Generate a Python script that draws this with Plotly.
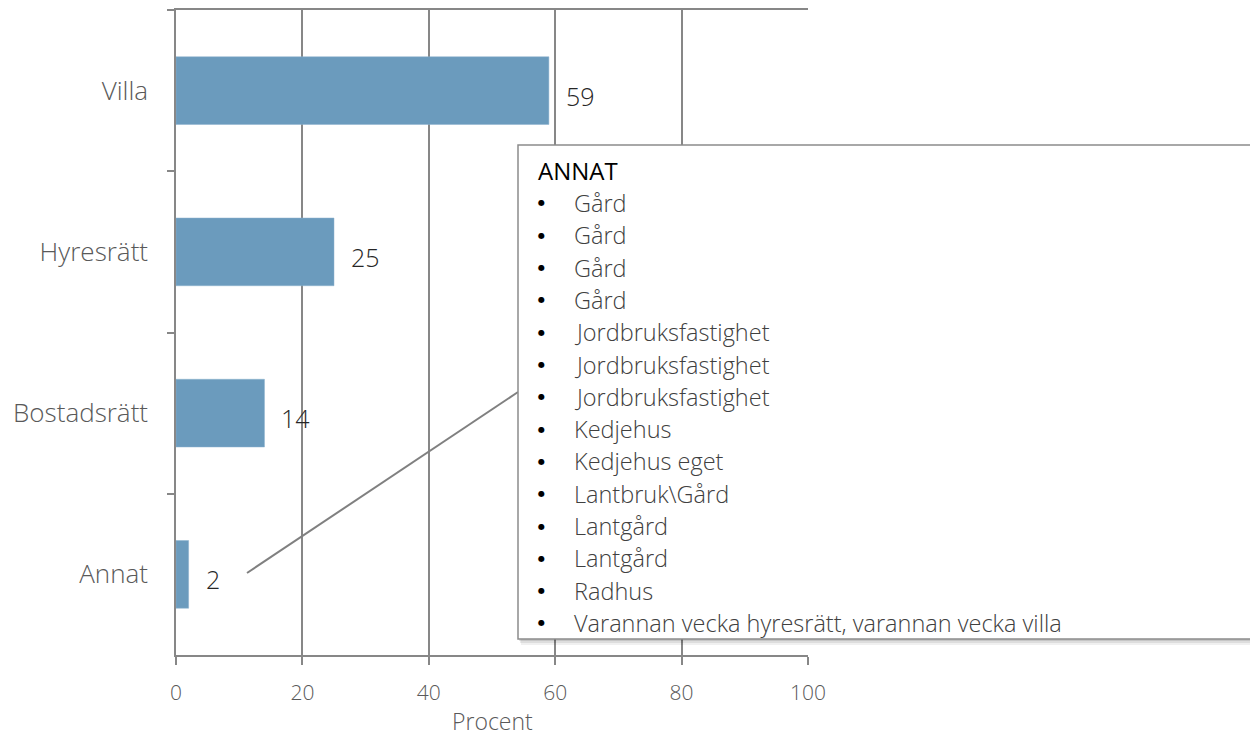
import plotly.graph_objects as go

categories = ["Villa", "Hyresrätt", "Bostadsrätt", "Annat"]
values = [59, 25, 14, 2]
x_ticks = [0, 20, 40, 60, 80, 100]
x_title = "Procent"
callout_title = "ANNAT"
annat_items = [
    "Gård", "Gård", "Gård", "Gård",
    "Jordbruksfastighet", "Jordbruksfastighet", "Jordbruksfastighet",
    "Kedjehus", "Kedjehus eget", "Lantbruk\\Gård",
    "Lantgård", "Lantgård", "Radhus",
    "Varannan vecka hyresrätt, varannan vecka villa",
]

W, H = 1250, 739
ML, MT = 176, 10
PW, PH = 632, 645
MR, MB = W - ML - PW, H - MT - PH
FONT = "Open Sans"
GRID = "#878787"


def px(p):  # page x -> paper
    return (p - ML) / PW


def py(p):  # page y -> paper
    return (MT + PH - p) / PH


fig = go.Figure()
fig.add_trace(go.Bar(
    x=values, y=categories, orientation="h", width=0.42,
    marker=dict(color="#6B9BBD", line=dict(color="#8DB3CF", width=0.5)),
    hoverinfo="skip", showlegend=False,
))

annotations = []
for c, v in zip(categories, values):
    annotations.append(dict(
        x=v, y=c, xref="x", yref="y", text=str(v), showarrow=False,
        xanchor="left", yanchor="middle", xshift=15, yshift=-5,
        font=dict(family=FONT, size=25, color="#262626", weight=300),
    ))

# x-axis title placed as an annotation centred under the plot area, kept inside the page
annotations.append(dict(
    x=0.5, y=py(738), xref="paper", yref="paper", text=x_title, showarrow=False,
    xanchor="center", yanchor="bottom", borderpad=0,
    font=dict(family=FONT, size=23, color="#595959", weight=300),
))

shapes = []
shapes.append(dict(type="line", xref="paper", yref="paper",
                   x0=px(247), y0=py(573), x1=px(518), y1=py(392),
                   line=dict(color="#808080", width=2), layer="above"))
for dx, dy, a in [(1, 2, 0.10), (2, 4, 0.08), (3, 6, 0.06)]:
    shapes.append(dict(type="rect", xref="paper", yref="paper",
                       x0=px(518 + dx), x1=px(1300), y0=py(639 + dy), y1=py(145 + dy),
                       fillcolor=f"rgba(0,0,0,{a})", line=dict(width=0), layer="above"))
shapes.append(dict(type="rect", xref="paper", yref="paper",
                   x0=px(518), x1=px(1300), y0=py(639), y1=py(145),
                   fillcolor="white", line=dict(color="#8C8C8C", width=1.5), layer="above"))

annotations.append(dict(
    x=px(536), y=py(170), xref="paper", yref="paper", text=callout_title,
    showarrow=False, xanchor="left", yanchor="middle",
    font=dict(family=FONT, size=24, color="#000000", weight=400),
))
LINE_H = 32.3
for i, item in enumerate(annat_items):
    yy = py(203 + i * LINE_H)
    annotations.append(dict(
        x=px(541), y=yy, xref="paper", yref="paper", text="●", showarrow=False,
        xanchor="center", yanchor="middle", borderpad=0,
        font=dict(family="DejaVu Sans", size=8, color="#000000"),
    ))
    annotations.append(dict(
        x=px(573), y=yy, xref="paper", yref="paper", text=item, showarrow=False,
        xanchor="left", yanchor="middle", borderpad=0,
        font=dict(family=FONT, size=23.5, color="#404040", weight=300),
    ))

fig.update_layout(
    width=W, height=H,
    margin=dict(l=ML, r=MR, t=MT, b=MB, pad=0, autoexpand=False),
    paper_bgcolor="white", plot_bgcolor="white",
    font=dict(family=FONT, color="#595959"),
    bargap=0.58,
    shapes=shapes, annotations=annotations,
    xaxis=dict(
        range=[0, 100], tickvals=x_ticks, ticktext=[str(t) for t in x_ticks],
        showgrid=True, gridcolor=GRID, gridwidth=1.5,
        showline=True, linecolor=GRID, linewidth=1.5, mirror=True,
        ticks="outside", ticklen=8, tickcolor=GRID, tickwidth=1.5,
        ticklabelstandoff=10, automargin=False,
        tickfont=dict(family=FONT, size=21, color="#595959", weight=300),
        zeroline=False, fixedrange=True,
    ),
    yaxis=dict(
        autorange="reversed", type="category",
        showgrid=False, showline=True, linecolor=GRID, linewidth=1.5,
        ticks="outside", ticklen=7, tickcolor=GRID, tickwidth=1.5,
        tickson="boundaries", ticklabelstandoff=21, automargin=False,
        tickfont=dict(family=FONT, size=26, color="#595959", weight=300),
        fixedrange=True,
    ),
)

fig.write_html(
    "out.html",
    config={"displayModeBar": False},
    post_script="document.body.style.margin='0';document.body.style.overflow='hidden';",
)
